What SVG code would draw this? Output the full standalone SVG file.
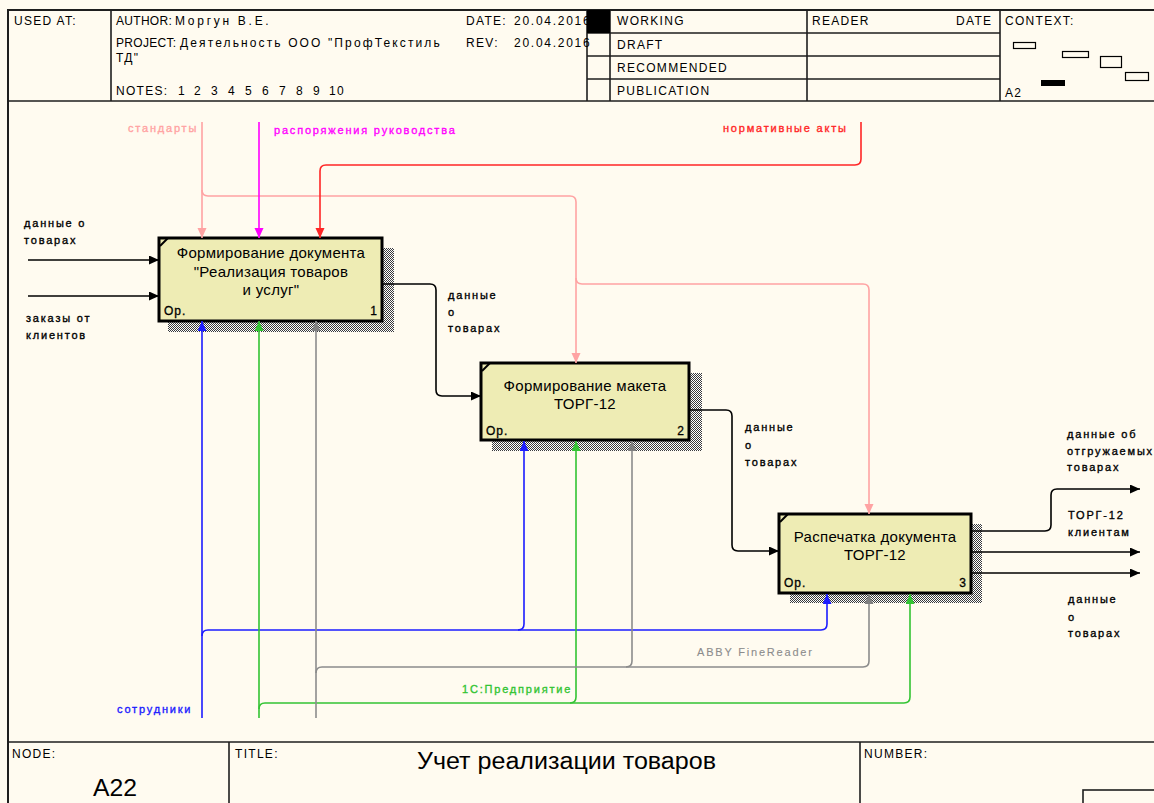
<svg xmlns="http://www.w3.org/2000/svg" width="1154" height="803" viewBox="0 0 1154 803">
  <style>
    .frame { fill: none; stroke: #1e1e1e; stroke-width: 2; }
    .rule { stroke: #1e1e1e; stroke-width: 1.6; fill: none; }
    .hdr { font-family: "Liberation Sans", Arial, sans-serif; font-size: 12px; letter-spacing: 1.3px; fill: #000; }
    .lbl { font-family: "Liberation Sans", Arial, sans-serif; font-size: 11px; letter-spacing: 1.8px; fill: #000; stroke: #000; stroke-width: 0.35px; }
    .box { fill: #eeecb4; stroke: #000; stroke-width: 3; }
    .shadow { fill: url(#hatch); }
    .btxt { font-family: "Liberation Sans", Arial, sans-serif; font-size: 15px; letter-spacing: 0.3px; fill: #000; text-anchor: middle; }
    .corner { font-family: "Liberation Sans", Arial, sans-serif; font-size: 12px; letter-spacing: 1px; fill: #000; stroke: #000; stroke-width: 0.3px; }
    .arr { fill: none; stroke-width: 1.6; }
    .k { stroke: #000; }
    .pk { stroke: #ffa3a3; }
    .mg { stroke: #ff00ff; }
    .rd { stroke: #ff2626; }
    .bl { stroke: #1c1cff; }
    .gn { stroke: #33c433; }
    .gy { stroke: #8c8c8c; }
    .t-pk { fill: #ffa3a3; stroke: #ffa3a3; }
    .t-mg { fill: #ff00ff; stroke: #ff00ff; }
    .t-rd { fill: #ff2626; stroke: #ff2626; }
    .t-bl { fill: #1c1cff; stroke: #1c1cff; }
    .t-gn { fill: #33c433; stroke: #33c433; }
    .t-gy { fill: #8c8c8c; stroke: #8c8c8c; }
  </style>
  <defs>
    <pattern id="hatch" width="2" height="2" patternUnits="userSpaceOnUse">
      <rect width="2" height="2" fill="#ffffff"/>
      <rect width="1" height="1" fill="#3a3a3a"/>
      <rect x="1" y="1" width="1" height="1" fill="#3a3a3a"/>
    </pattern>
    <marker id="mk" markerWidth="11" markerHeight="10" refX="10" refY="4.5" orient="auto" markerUnits="userSpaceOnUse"><path d="M0,0 L10,4.5 L0,9 z" fill="#000"/></marker>
    <marker id="mpk" markerWidth="11" markerHeight="10" refX="10" refY="4.5" orient="auto" markerUnits="userSpaceOnUse"><path d="M0,0 L10,4.5 L0,9 z" fill="#ffa3a3"/></marker>
    <marker id="mmg" markerWidth="11" markerHeight="10" refX="10" refY="4.5" orient="auto" markerUnits="userSpaceOnUse"><path d="M0,0 L10,4.5 L0,9 z" fill="#ff00ff"/></marker>
    <marker id="mrd" markerWidth="11" markerHeight="10" refX="10" refY="4.5" orient="auto" markerUnits="userSpaceOnUse"><path d="M0,0 L10,4.5 L0,9 z" fill="#ff2626"/></marker>
    <marker id="mbl" markerWidth="11" markerHeight="10" refX="10" refY="4.5" orient="auto" markerUnits="userSpaceOnUse"><path d="M0,0 L10,4.5 L0,9 z" fill="#1c1cff"/></marker>
    <marker id="mgn" markerWidth="11" markerHeight="10" refX="10" refY="4.5" orient="auto" markerUnits="userSpaceOnUse"><path d="M0,0 L10,4.5 L0,9 z" fill="#33c433"/></marker>
    <marker id="mgy" markerWidth="11" markerHeight="10" refX="10" refY="4.5" orient="auto" markerUnits="userSpaceOnUse"><path d="M0,0 L10,4.5 L0,9 z" fill="#808080"/></marker>
  </defs>

  <rect width="1154" height="803" fill="#fffbf0"/>

  <!-- sheet frame -->
  <g id="frame">
    <rect class="frame" x="8" y="10" width="1160" height="800"/>
    <line class="rule" x1="8" y1="101" x2="1160" y2="101"/>
    <line class="rule" x1="111" y1="10" x2="111" y2="101"/>
    <line class="rule" x1="587" y1="10" x2="587" y2="101"/>
    <line class="rule" x1="610" y1="10" x2="610" y2="101"/>
    <line class="rule" x1="807" y1="10" x2="807" y2="101"/>
    <line class="rule" x1="1000" y1="10" x2="1000" y2="101"/>
    <line class="rule" x1="587" y1="33" x2="1000" y2="33"/>
    <line class="rule" x1="587" y1="56" x2="1000" y2="56"/>
    <line class="rule" x1="587" y1="79" x2="1000" y2="79"/>
    <!-- footer -->
    <line class="rule" x1="8" y1="742" x2="1160" y2="742"/>
    <line class="rule" x1="229" y1="742" x2="229" y2="803"/>
    <line class="rule" x1="860" y1="742" x2="860" y2="803"/>
    <rect class="rule" x="1083" y="790" width="100" height="30"/>
  </g>

  <!-- header texts -->
  <g id="header">
    <text class="hdr" x="14" y="25">USED AT:</text>
    <text class="hdr" x="116" y="25"><tspan letter-spacing="0.3">AUTHOR:</tspan></text>
    <text class="hdr" x="175" y="25" letter-spacing="0" textLength="95">Моргун В.Е.</text>
    <text class="hdr" x="116" y="47"><tspan letter-spacing="0.3">PROJECT:</tspan></text>
    <text class="hdr" x="180" y="47" letter-spacing="0" textLength="261">Деятельность ООО "ПрофТекстиль</text>
    <text class="hdr" x="116" y="62">ТД"</text>
    <text class="hdr" x="116" y="95">NOTES:<tspan x="178">1</tspan><tspan x="194">2</tspan><tspan x="211">3</tspan><tspan x="228">4</tspan><tspan x="245">5</tspan><tspan x="262">6</tspan><tspan x="279">7</tspan><tspan x="296">8</tspan><tspan x="313">9</tspan><tspan x="329">10</tspan></text>
    <text class="hdr" x="466" y="25">DATE:</text>
    <text class="hdr" x="514" y="25" letter-spacing="0" textLength="77">20.04.2016</text>
    <text class="hdr" x="466" y="47">REV:</text>
    <text class="hdr" x="514" y="47" letter-spacing="0" textLength="77">20.04.2016</text>
    <rect x="587" y="10" width="23" height="23" fill="#000"/>
    <text class="hdr" x="617" y="25">WORKING</text>
    <text class="hdr" x="617" y="49">DRAFT</text>
    <text class="hdr" x="617" y="72">RECOMMENDED</text>
    <text class="hdr" x="617" y="95">PUBLICATION</text>
    <text class="hdr" x="812" y="25">READER</text>
    <text class="hdr" x="956" y="25">DATE</text>
    <text class="hdr" x="1005" y="25">CONTEXT:</text>
    <text class="hdr" x="1005" y="97" letter-spacing="0">A2</text>
    <g fill="none" stroke="#000" stroke-width="1.2">
      <rect x="1013.5" y="42.5" width="22" height="6"/>
      <rect x="1062.5" y="51.5" width="26" height="6"/>
      <rect x="1100.5" y="56.5" width="21" height="11"/>
      <rect x="1125.5" y="72.5" width="23" height="8"/>
    </g>
    <rect x="1041" y="80" width="24" height="6" fill="#000"/>
  </g>

  <!-- activity boxes -->
  <g id="node-1">
    <rect class="shadow" x="168" y="248" width="226" height="84"/>
    <rect class="box" x="159" y="238" width="223" height="83"/>
    <path d="M160,246 L168,238" stroke="#000" stroke-width="2"/>
    <text class="btxt" x="271" y="258">Формирование документа</text>
    <text class="btxt" x="271" y="277">"Реализация товаров</text>
    <text class="btxt" x="271" y="295">и услуг"</text>
    <text class="corner" x="164" y="315">Ор.</text>
    <text class="corner" x="378" y="315" text-anchor="end">1</text>
  </g>
  <g id="node-2">
    <rect class="shadow" x="492" y="373" width="210" height="78"/>
    <rect class="box" x="481" y="363" width="208" height="77"/>
    <path d="M482,371 L490,363" stroke="#000" stroke-width="2"/>
    <text class="btxt" x="585" y="391">Формирование макета</text>
    <text class="btxt" x="585" y="409">ТОРГ-12</text>
    <text class="corner" x="486" y="435">Ор.</text>
    <text class="corner" x="685" y="435" text-anchor="end">2</text>
  </g>
  <g id="node-3">
    <rect class="shadow" x="790" y="524" width="192" height="79"/>
    <rect class="box" x="779" y="514" width="192" height="79"/>
    <path d="M780,522 L788,514" stroke="#000" stroke-width="2"/>
    <text class="btxt" x="875" y="542">Распечатка документа</text>
    <text class="btxt" x="875" y="560">ТОРГ-12</text>
    <text class="corner" x="784" y="587">Ор.</text>
    <text class="corner" x="967" y="587" text-anchor="end">3</text>
  </g>

  <!-- connectors -->
  <g id="connectors">
    <!-- inputs -->
    <path class="arr k" d="M28,260 H159" marker-end="url(#mk)"/>
    <path class="arr k" d="M28,296 H159" marker-end="url(#mk)"/>
    <path class="arr k" d="M383,284 H430 Q436,284 436,290 V390 Q436,396 442,396 H481" marker-end="url(#mk)"/>
    <path class="arr k" d="M690,410 H726 Q732,410 732,416 V545 Q732,551 738,551 H779" marker-end="url(#mk)"/>
    <!-- outputs -->
    <path class="arr k" d="M972,531 H1045 Q1051,531 1051,525 V495 Q1051,489 1057,489 H1140" marker-end="url(#mk)"/>
    <path class="arr k" d="M972,552 H1140" marker-end="url(#mk)"/>
    <path class="arr k" d="M972,573 H1140" marker-end="url(#mk)"/>
    <!-- controls -->
    <path class="arr pk" d="M202,122 V238" marker-end="url(#mpk)"/>
    <path class="arr pk" d="M202,190 Q202,196 208,196 H570 Q576,196 576,202 V363" marker-end="url(#mpk)"/>
    <path class="arr pk" d="M576,278 Q576,284 582,284 H863 Q869,284 869,290 V514" marker-end="url(#mpk)"/>
    <path class="arr mg" d="M259,122 V238" marker-end="url(#mmg)"/>
    <path class="arr rd" d="M861,122 V159 Q861,165 855,165 H326 Q320,165 320,171 V238" marker-end="url(#mrd)"/>
    <!-- mechanisms -->
    <path class="arr bl" d="M202,718 V321" marker-end="url(#mbl)"/>
    <path class="arr bl" d="M202,636 Q202,630 208,630 H821 Q827,630 827,624 V594" marker-end="url(#mbl)"/>
    <path class="arr bl" d="M518,630 Q524,630 524,624 V441" marker-end="url(#mbl)"/>
    <path class="arr gn" d="M259,718 V321" marker-end="url(#mgn)"/>
    <path class="arr gn" d="M259,709 Q259,703 265,703 H904 Q910,703 910,697 V594" marker-end="url(#mgn)"/>
    <path class="arr gn" d="M570,703 Q576,703 576,697 V441" marker-end="url(#mgn)"/>
    <path class="arr gy" d="M316,718 V321" marker-end="url(#mgy)"/>
    <path class="arr gy" d="M316,673 Q316,667 322,667 H863 Q869,667 869,661 V594" marker-end="url(#mgy)"/>
    <path class="arr gy" d="M626,667 Q632,667 632,661 V441" marker-end="url(#mgy)"/>
  </g>

  <!-- connector labels -->
  <g id="labels">
    <text class="lbl" x="24" y="227">данные о</text>
    <text class="lbl" x="24" y="244">товарах</text>
    <text class="lbl" x="26" y="322">заказы от</text>
    <text class="lbl" x="26" y="339">клиентов</text>
    <text class="lbl t-pk" x="128" y="132">стандарты</text>
    <text class="lbl t-mg" x="274" y="134">распоряжения руководства</text>
    <text class="lbl t-rd" x="723" y="132">нормативные акты</text>
    <text class="lbl" x="448" y="299">данные</text>
    <text class="lbl" x="448" y="316">о</text>
    <text class="lbl" x="448" y="332">товарах</text>
    <text class="lbl" x="745" y="431">данные</text>
    <text class="lbl" x="745" y="449">о</text>
    <text class="lbl" x="745" y="466">товарах</text>
    <text class="lbl" x="1067" y="438">данные об</text>
    <text class="lbl" x="1067" y="455">отгружаемых</text>
    <text class="lbl" x="1067" y="471">товарах</text>
    <text class="lbl" x="1068" y="519">ТОРГ-12</text>
    <text class="lbl" x="1068" y="536">клиентам</text>
    <text class="lbl" x="1068" y="603">данные</text>
    <text class="lbl" x="1068" y="621">о</text>
    <text class="lbl" x="1068" y="637">товарах</text>
    <text class="lbl t-gy" x="697" y="656" style="stroke-width:0.1px">ABBY FineReader</text>
    <text class="lbl t-gn" x="462" y="693">1С:Предприятие</text>
    <text class="lbl t-bl" x="117" y="713">сотрудники</text>
  </g>

  <!-- footer texts -->
  <g id="footer">
    <text class="hdr" x="12" y="758">NODE:</text>
    <text x="93" y="796" font-family="'Liberation Sans', Arial, sans-serif" font-size="23" textLength="44" lengthAdjust="spacingAndGlyphs">A22</text>
    <text class="hdr" x="235" y="758">TITLE:</text>
    <text x="417" y="769" font-family="'Liberation Sans', Arial, sans-serif" font-size="23" textLength="299" lengthAdjust="spacingAndGlyphs">Учет реализации товаров</text>
    <text class="hdr" x="864" y="758">NUMBER:</text>
  </g>
</svg>
